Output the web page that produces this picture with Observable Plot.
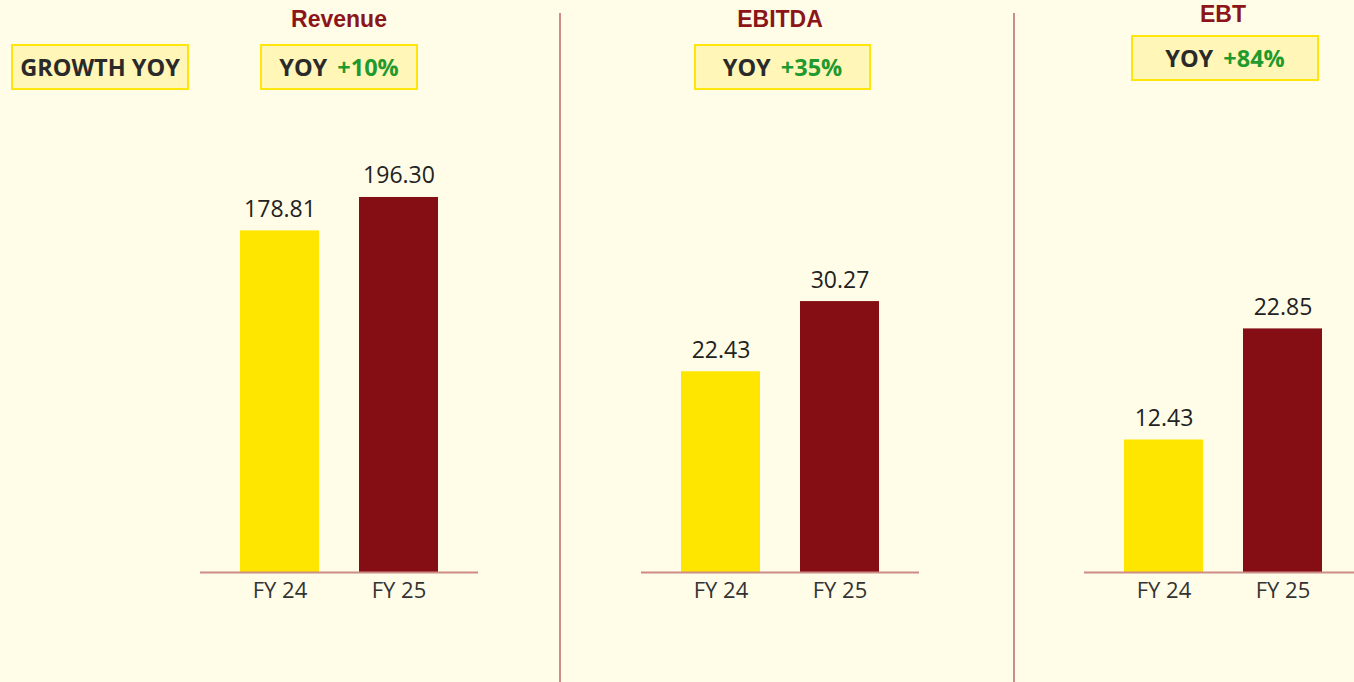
<!DOCTYPE html>
<html>
<head>
<meta charset="utf-8">
<script src="https://cdn.jsdelivr.net/npm/d3@7"></script>
<script src="https://cdn.jsdelivr.net/npm/@observablehq/plot@0.6"></script>
<style>
  html, body { margin: 0; padding: 0; background: #FFFDE8; }
  #root { position: relative; width: 1354px; height: 682px; overflow: hidden; background: #FFFDE8; font-family: "Open Sans", "Noto Sans", sans-serif; }
  .panel { position: absolute; top: 100px; width: 278px; }
  .title { position: absolute; font-family: "Liberation Sans", Arial, sans-serif; font-weight: bold; font-size: 23px; color: #8B1518; transform: translateX(-50%); white-space: nowrap; line-height: 1.1; }
  .box { position: absolute; box-sizing: border-box; background: #FFF6B8; border: 2px solid #FFE60A; display: flex; align-items: center; justify-content: center; font-family: "Open Sans", "Noto Sans", sans-serif; font-weight: bold; font-size: 23.5px; color: #2a2a2a; white-space: nowrap; }
  .box .g { color: #1E9A2E; margin-left: 10px; }
  .divider { position: absolute; top: 13px; bottom: 0; width: 2px; background: #CE8C86; }
</style>
</head>
<body>
<div id="root"></div>
<script>
// ---- data ----
const metrics = ["Revenue", "EBITDA", "EBT"];
const years = ["FY 24", "FY 25"];
const fy24 = [178.81, 22.43, 12.43];
const fy25 = [196.30, 30.27, 22.85];
const yoyGrowth = ["+10%", "+35%", "+84%"];
const leftLabel = "GROWTH YOY";

// ---- layout (styles) ----
const panelLeft = [200, 641, 1084];
const yMax = [236.6, 50.5, 42.4];
const titleTop = [7, 7, 2];
const boxGeom = [[260, 44, 158, 46], [694, 44, 177, 46], [1131, 35, 188, 46]];
const dividerX = [559, 1013];
const colors = {"FY 24": "#FFE600", "FY 25": "#850E15"};

const root = document.getElementById("root");

dividerX.forEach(x => {
  const d = document.createElement("div");
  d.className = "divider";
  d.style.left = x + "px";
  root.appendChild(d);
});

// left label box
{
  const b = document.createElement("div");
  b.className = "box";
  Object.assign(b.style, {left: "11px", top: "44px", width: "178px", height: "46px"});
  b.textContent = leftLabel;
  root.appendChild(b);
}

metrics.forEach((m, i) => {
  const data = [
    {year: years[0], value: fy24[i]},
    {year: years[1], value: fy25[i]}
  ];
  const chart = Plot.plot({
    width: 278,
    height: 520,
    marginTop: 20,
    marginBottom: 48,
    marginLeft: 0,
    marginRight: 0,
    style: {background: "transparent", fontFamily: "'Open Sans', 'Noto Sans', sans-serif", overflow: "visible", maxWidth: "none"},
    x: {domain: years, padding: 1/3, label: null},
    y: {domain: [0, yMax[i]], axis: null},
    marks: [
      Plot.barY(data, {x: "year", y: "value", fill: d => colors[d.year]}),
      Plot.ruleY([0], {stroke: "#CE8C86", strokeWidth: 2}),
      Plot.text(data, {x: "year", y: "value", text: d => d.value.toFixed(2), dy: -14, lineAnchor: "bottom", fontSize: 23, fill: "#222"}),
      Plot.axisX({tickSize: 0, tickPadding: 10, fontSize: 22, color: "#333", label: null})
    ]
  });
  const wrap = document.createElement("div");
  wrap.className = "panel";
  wrap.style.left = panelLeft[i] + "px";
  wrap.appendChild(chart);
  root.appendChild(wrap);

  // title centered between bars
  const t = document.createElement("div");
  t.className = "title";
  t.style.left = (panelLeft[i] + 139) + "px";
  t.style.top = titleTop[i] + "px";
  t.textContent = m;
  root.appendChild(t);

  const [bx, by, bw, bh] = boxGeom[i];
  const b = document.createElement("div");
  b.className = "box";
  Object.assign(b.style, {left: bx + "px", top: by + "px", width: bw + "px", height: bh + "px"});
  b.innerHTML = 'YOY<span class="g">' + yoyGrowth[i] + '</span>';
  root.appendChild(b);
});
</script>
</body>
</html>
